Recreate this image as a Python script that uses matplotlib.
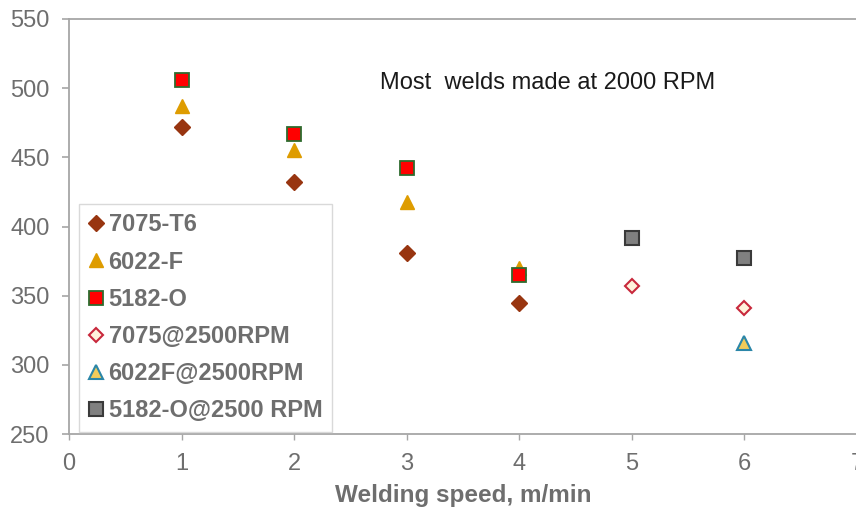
import numpy as np
import matplotlib
matplotlib.use("Agg")
import matplotlib.pyplot as plt

# ── data ──────────────────────────────────────────────────────────────────────
speed_2000   = [1, 2, 3, 4]
uts_7075_t6  = [472, 432, 381, 345]
uts_6022_f   = [487, 455, 418, 370]
uts_5182_o   = [506, 467, 442, 365]

speed_7075_2500  = [5, 6]
uts_7075_2500    = [357, 341]
speed_6022_2500  = [6]
uts_6022_2500    = [316]
speed_5182_2500  = [5, 6]
uts_5182_2500    = [392, 377]

x_ticks = [0, 1, 2, 3, 4, 5, 6, 7]
y_ticks = [250, 300, 350, 400, 450, 500, 550]

plt.rcParams["font.family"] = ["Liberation Sans", "DejaVu Sans"]

fig = plt.figure(figsize=(8.56, 5.11), dpi=100)
ax = fig.add_axes([69 / 856, 1 - 434 / 511, 788 / 856, 415 / 511])

series = [
    (speed_2000, uts_7075_t6, "7075-T6",
     dict(marker="D", ms=8, mfc="#983510", mec="#983510")),
    (speed_2000, uts_6022_f, "6022-F",
     dict(marker="^", ms=10, mfc="#DE9C00", mec="#DE9C00")),
    (speed_2000, uts_5182_o, "5182-O",
     dict(marker="s", ms=9.5, mfc="#FF0000", mec="#2E6B2E", mew=1.3)),
    (speed_7075_2500, uts_7075_2500, "7075@2500RPM",
     dict(marker="D", ms=7, mfc="#FFF2DC", mec="#C8283C", mew=1.5)),
    (speed_6022_2500, uts_6022_2500, "6022F@2500RPM",
     dict(marker="^", ms=9.5, mfc="#F2CC5A", mec="#2B86A8", mew=1.5)),
    (speed_5182_2500, uts_5182_2500, "5182-O@2500 RPM",
     dict(marker="s", ms=9.5, mfc="#808080", mec="#3A3A3A", mew=1.5)),
]
for xs, ys, label, style in series:
    ax.plot(xs, ys, linestyle="none", label=label, **style)

ax.set_xlim(0, 7)
ax.set_ylim(250, 550)
ax.set_xticks(x_ticks)
ax.set_yticks(y_ticks)

axis_grey = "#A6A6A6"
for side in ["left", "bottom", "top"]:
    ax.spines[side].set_color(axis_grey)
    ax.spines[side].set_linewidth(1.3)
ax.spines["right"].set_visible(False)

ax.tick_params(axis="y", direction="out", length=5, width=1.2, color=axis_grey,
               labelsize=17, labelcolor="#6E6E6E", pad=9)
ax.tick_params(axis="x", direction="out", length=4, width=1.0, color=axis_grey,
               labelsize=17, labelcolor="#6E6E6E", pad=10)

ax.set_xlabel("Welding speed, m/min", fontsize=17.5, fontweight="bold",
              color="#6E6E6E", labelpad=6)

ax.text(4.25, 504, "Most  welds made at 2000 RPM", fontsize=17,
        color="#1A1A1A", ha="center", va="center")

leg = ax.legend(loc="upper left", bbox_to_anchor=(10 / 788, 230 / 415),
                frameon=True, fancybox=False, fontsize=17,
                handlelength=0.6, handletextpad=0.25, labelspacing=0.6,
                borderpad=0.4, borderaxespad=0, numpoints=1)
leg.get_frame().set_edgecolor("#D0D0D0")
leg.get_frame().set_linewidth(1.0)
for t in leg.get_texts():
    t.set_color("#6E6E6E")
    t.set_fontweight("bold")

fig.savefig("out.png", dpi=100)
